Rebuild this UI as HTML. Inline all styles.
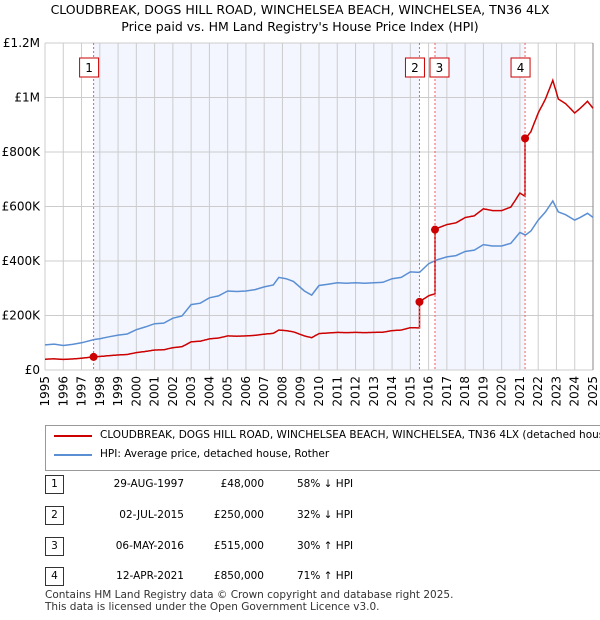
<!DOCTYPE html>
<html><head><meta charset="utf-8"><style>
body{margin:0;background:#fff;font-family:"DejaVu Sans","Liberation Sans",sans-serif;}
#wrap{position:relative;width:600px;height:620px;overflow:hidden;}
.t{position:absolute;font-size:12px;color:#000;white-space:nowrap;}
</style></head><body><div id="wrap">
<div class="t" style="left:0;width:600px;text-align:center;top:2px;font-size:12.5px;">CLOUDBREAK, DOGS HILL ROAD, WINCHELSEA BEACH, WINCHELSEA, TN36 4LX</div>
<div class="t" style="left:0;width:600px;text-align:center;top:19px;font-size:12.5px;">Price paid vs. HM Land Registry's House Price Index (HPI)</div>
<svg id="chart" width="600" height="420" style="position:absolute;left:0;top:0" font-family="DejaVu Sans, Liberation Sans, sans-serif"></svg>
<div style="position:absolute;left:45px;top:425px;width:570px;height:44px;border:1px solid #999;">
<div><svg width="40" height="10" style="position:absolute;left:8px;top:5px"><line x1="0" y1="5" x2="38" y2="5" stroke="#cc0000" stroke-width="2"/></svg><span class="t" style="left:54px;top:3px;font-size:10.5px">CLOUDBREAK, DOGS HILL ROAD, WINCHELSEA BEACH, WINCHELSEA, TN36 4LX (detached house)</span></div>
<div><svg width="40" height="10" style="position:absolute;left:8px;top:24px"><line x1="0" y1="5" x2="38" y2="5" stroke="#5b8fd4" stroke-width="2"/></svg><span class="t" style="left:54px;top:22px;font-size:10.5px">HPI: Average price, detached house, Rother</span></div>
</div>
<div id="tbl"></div>
<div class="t" style="left:45px;top:589px;font-size:10.5px;color:#333">Contains HM Land Registry data © Crown copyright and database right 2025.</div>
<div class="t" style="left:45px;top:601px;font-size:10.5px;color:#333">This data is licensed under the Open Government Licence v3.0.</div>
</div>
<script>
const hpiYears=[1995,1995.5,1996,1996.5,1997,1997.7,1998,1998.5,1999,1999.5,2000,2000.5,2001,2001.5,2002,2002.5,2003,2003.5,2004,2004.5,2005,2005.5,2006,2006.5,2007,2007.5,2007.8,2008.2,2008.6,2009.2,2009.6,2010,2010.5,2011,2011.5,2012,2012.5,2013,2013.5,2014,2014.5,2015,2015.5,2016,2016.5,2017,2017.5,2018,2018.5,2019,2019.5,2020,2020.5,2021,2021.3,2021.6,2022,2022.4,2022.8,2023.1,2023.5,2024,2024.3,2024.7,2025];
const hpiValues=[92,95,90,94,100,112,115,122,128,132,148,158,170,172,190,198,240,245,265,272,290,288,290,295,305,312,340,335,325,290,275,310,315,320,318,320,318,320,322,335,340,360,358,390,405,415,420,435,440,460,455,455,465,505,495,510,550,580,620,580,570,550,560,575,560];
const saleYears=[1997.66,2015.5,2016.35,2021.28];
const salePrices=[48000,250000,515000,850000];
const saleLabels=["1","2","3","4"];
const saleDates=["29-AUG-1997","02-JUL-2015","06-MAY-2016","12-APR-2021"];
const salePriceText=["£48,000","£250,000","£515,000","£850,000"];
const saleHpiText=["58% ↓ HPI","32% ↓ HPI","30% ↑ HPI","71% ↑ HPI"];
const yTicks=[0,200000,400000,600000,800000,1000000,1200000];
const yTickLabels=["£0","£200K","£400K","£600K","£800K","£1M","£1.2M"];
const xTicks=[1995,1996,1997,1998,1999,2000,2001,2002,2003,2004,2005,2006,2007,2008,2009,2010,2011,2012,2013,2014,2015,2016,2017,2018,2019,2020,2021,2022,2023,2024,2025];

const X0=45,X1=593,Y0=370,Y1=43;
const xs=y=>X0+(y-1995)/(2025-1995)*(X1-X0);
const ys=v=>Y0-v/1200000*(Y0-Y1);
const NS="http://www.w3.org/2000/svg";
const svg=document.getElementById('chart');
function mk(tag,attrs,parent){const e=document.createElementNS(NS,tag);for(const k in attrs)e.setAttribute(k,attrs[k]);(parent||svg).appendChild(e);return e;}
function hpiAt(y){for(let i=1;i<hpiYears.length;i++){if(y<=hpiYears[i]){const t=(y-hpiYears[i-1])/(hpiYears[i]-hpiYears[i-1]);return (hpiValues[i-1]+t*(hpiValues[i]-hpiValues[i-1]))*1000;}}return hpiValues[hpiValues.length-1]*1000;}

let r=mk('rect',{x:X0,y:Y1,width:X1-X0,height:Y0-Y1,fill:'#fff'});

[[0,1],[2,3]].forEach(p=>{const s=mk('rect',{x:xs(saleYears[p[0]]),y:Y1,width:xs(saleYears[p[1]])-xs(saleYears[p[0]]),height:Y0-Y1,fill:'#f3f6fe'});
});
xTicks.forEach(t=>{const l=mk('line',{x1:xs(t),x2:xs(t),y1:Y1,y2:Y0,stroke:'#ccc','stroke-width':1});

const tx=mk('text',{x:0,y:0,'font-size':12,'text-anchor':'end',transform:`translate(${xs(t)+4},${Y0+6}) rotate(-90)`});tx.textContent=t;
});
yTicks.forEach((t,i)=>{const l=mk('line',{x1:X0,x2:X1,y1:ys(t),y2:ys(t),stroke:'#ccc','stroke-width':1});

const tx=mk('text',{x:X0-5,y:ys(t)+4,'font-size':12,'text-anchor':'end'});tx.textContent=yTickLabels[i];
});
let ra=mk('line',{x1:X1,x2:X1,y1:Y1,y2:Y0,stroke:'#888'});

let d='';hpiYears.forEach((y,i)=>{d+=(i?'L':'M')+xs(y).toFixed(1)+','+ys(hpiValues[i]*1000).toFixed(1);});
let hl=mk('path',{d:d,fill:'none',stroke:'#5b8fd4','stroke-width':1.5});

let pd='';const steps=[];
for(let y=1995;y<=2025.0001;y+=0.05)steps.push(y);
saleYears.forEach(s=>steps.push(s,s-0.0001));steps.sort((a,b)=>a-b);
steps.forEach((y,i)=>{let k=0;for(let j=0;j<saleYears.length;j++)if(y>=saleYears[j])k=j;
const ratio=salePrices[k]/hpiAt(saleYears[k]);const v=hpiAt(y)*ratio;
pd+=(i?'L':'M')+xs(y).toFixed(1)+','+ys(v).toFixed(1);});
let pl=mk('path',{d:pd,fill:'none',stroke:'#cc0000','stroke-width':1.5});


saleYears.forEach((y,i)=>{
const vl=mk('line',{x1:xs(y),x2:xs(y),y1:Y1,y2:Y0,stroke:'#f06060','stroke-dasharray':'2,2','stroke-width':1});

const m=mk('circle',{cx:xs(y),cy:ys(salePrices[i]),r:4,fill:'#cc0000'});

const bx=i==2?xs(y)-5:xs(y)-14;
const b=mk('rect',{x:bx,y:58,width:19,height:19,fill:'#fff',stroke:'#cc0000'});

const tx=mk('text',{x:bx+9.5,y:72,'font-size':12,'text-anchor':'middle'});tx.textContent=saleLabels[i];
});

const tbl=document.getElementById('tbl');
const rowY=[475,506,537,567];
saleLabels.forEach((l,i)=>{
const row=document.createElement('div');


row.innerHTML=`<div class="t" style="left:45px;top:${rowY[i]}px;width:17px;height:17px;border:1px solid #333;text-align:center;line-height:17px;font-size:10.5px">${l}</div>
<div class="t" style="left:62px;width:122px;text-align:right;top:${rowY[i]+3}px;font-size:10.5px">${saleDates[i]}</div>
<div class="t" style="left:184px;width:80px;text-align:right;top:${rowY[i]+3}px;font-size:10.5px">${salePriceText[i]}</div>
<div class="t" style="left:297px;top:${rowY[i]+3}px;font-size:10.5px">${saleHpiText[i]}</div>`;
tbl.appendChild(row);});
</script></body></html>
